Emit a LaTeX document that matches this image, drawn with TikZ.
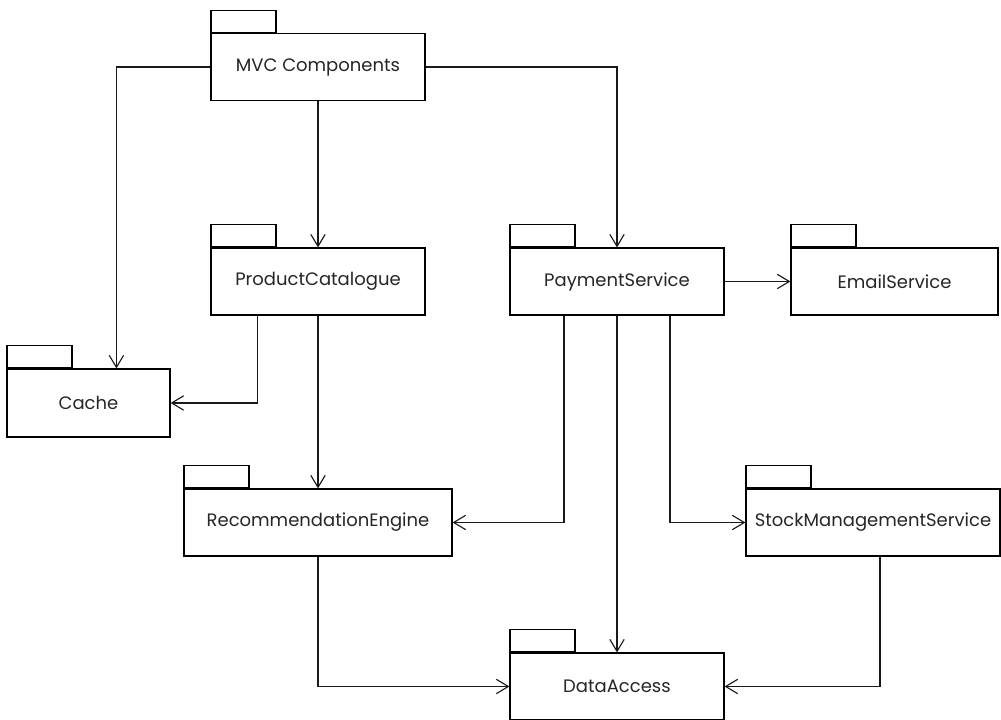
\documentclass[tikz,border=0pt]{standalone}
\usepackage{fontspec}
\setmainfont{Poppins}
\usetikzlibrary{positioning,calc}
\usetikzlibrary{arrows.meta}
\newcommand{\pkgfont}{\fontsize{12.8}{15}\selectfont}
\tikzset{
        % Package body
        pkg/.style={draw, rectangle, line width=0.8pt, fill=white, inner sep=0pt,
            minimum width=5.35cm, minimum height=1.675cm, font=\pkgfont, text=black!85},
        % Package tab
        pkg_tab/.style={draw, rectangle, line width=0.8pt, inner sep=0pt,
            minimum width=1.625cm, minimum height=0.55cm},
        % Dependencies
        dep/.style={-{Straight Barb[length=3mm,width=3.6mm]}, line width=0.8pt, black!90}
}
\begin{document}
\begin{tikzpicture}[x=0.025cm, y=-0.025cm]
    \useasboundingbox (0,0) rectangle (1001,720);
    % Packages
    \node[pkg] (mvc) at (318,67) {MVC Components};
    \node[pkg] (prod) at (318,281.5) {ProductCatalogue};
    \node[pkg] (pay) at (617,281.5) {PaymentService};
    \node[pkg, minimum width=5.175cm] (email) at (894.5,281.5) {EmailService};
    \node[pkg, minimum width=4.075cm, minimum height=1.7cm] (cache) at (88.5,403) {Cache};
    \node[pkg, minimum width=6.7cm] (rec) at (318,522.5) {RecommendationEngine};
    \node[pkg, minimum width=6.35cm] (stock) at (873,522.5) {StockManagementService};
    \node[pkg] (data) at (617,686.5) {DataAccess};
    % Tabs
    \foreach \p in {mvc, prod, pay, email, cache, rec, stock, data}
        \node[pkg_tab, above right=0pt of \p.north west] (\p_tab) {};
    % Dependencies
    \draw[dep] (mvc.west) -| ($(cache.north west)+(110,0)$);
    \draw[dep] (mvc) -- (prod);
    \draw[dep] (mvc.east) -| (pay.north);
    \draw[dep] (pay) -- (email);
    \draw[dep] ($(prod.south west)+(47,0)$) |- (cache.east);
    \draw[dep] (prod) -- (rec);
    \draw[dep] ($(pay.south)+(-53,0)$) |- (rec.east);
    \draw[dep] (pay) -- (data);
    \draw[dep] ($(pay.south)+(53,0)$) |- (stock.west);
    \draw[dep] (rec.south) |- (data.west);
    \draw[dep] ($(stock.south)+(7,0)$) |- (data.east);
\end{tikzpicture}
\end{document}
